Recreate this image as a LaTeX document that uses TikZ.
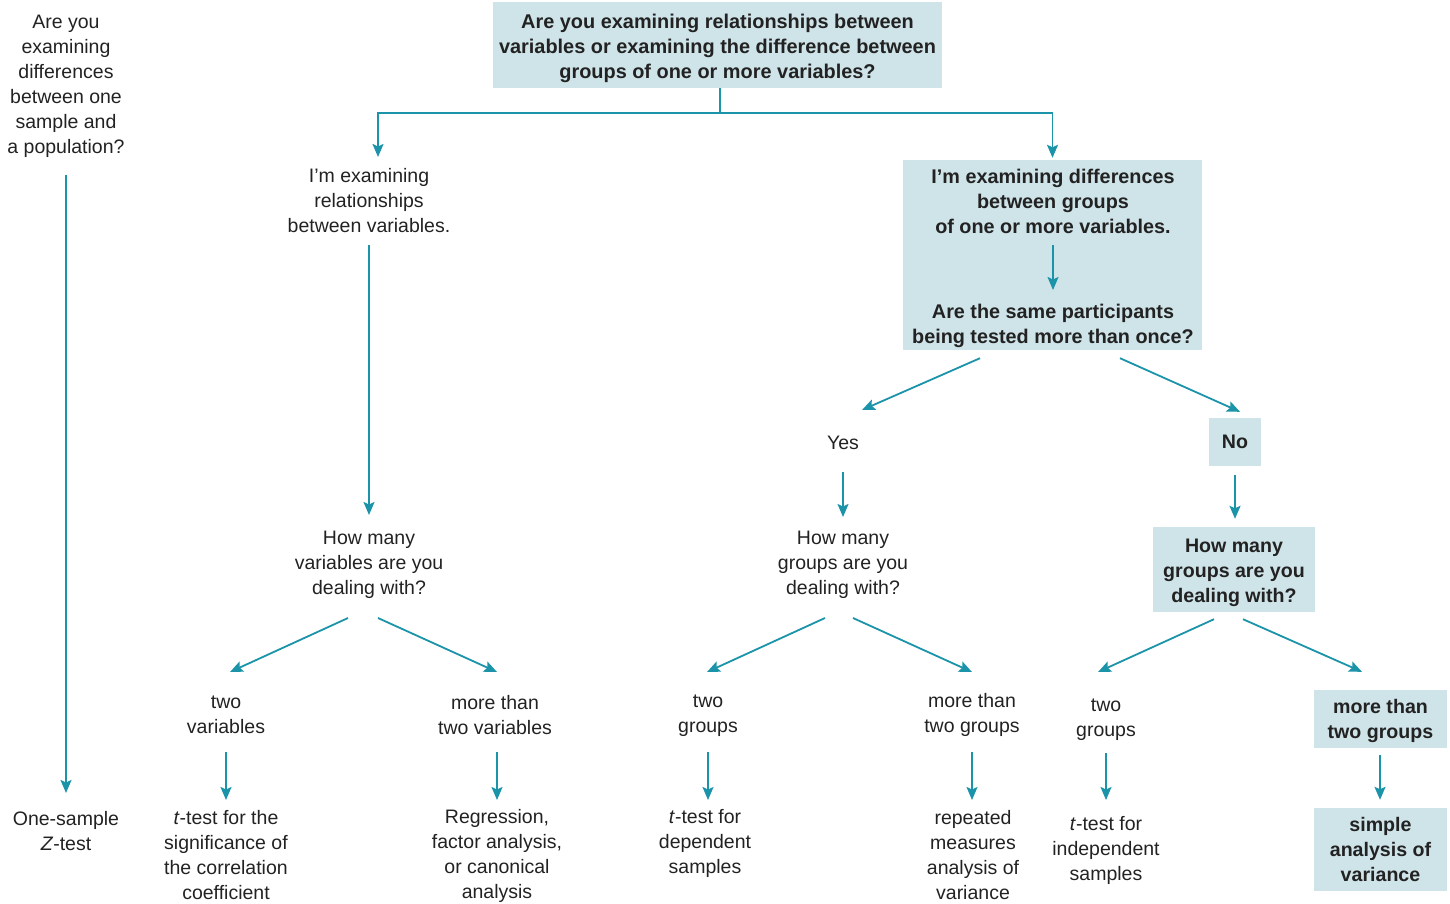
\documentclass[tikz,border=0pt]{standalone}
\usepackage{fontspec}
\setmainfont{Liberation Sans}
\usetikzlibrary{arrows.meta,calc}
\definecolor{boxfill}{HTML}{CFE4E9}
\definecolor{teal}{HTML}{1B93A9}
\definecolor{ink}{HTML}{222222}
\newcommand{\firstup}[1]{\rule{0pt}{#1}}
\tikzset{
  txt/.style={align=center, inner sep=0pt, text=ink, font=\fontsize{19.5}{25}\selectfont},
  btxt/.style={align=center, inner sep=0pt, text=ink, font=\fontsize{19.8}{25}\selectfont\bfseries},
  bluebox/.style={fill=boxfill, draw=none, inner sep=0pt, align=center, text=ink, font=\fontsize{19.6}{25}\selectfont\bfseries},
  conn/.style={draw=teal, line width=1.8pt},
  arr/.style={conn, -{Stealth[length=13pt,width=11pt,inset=2.5pt]}}
}
\begin{document}
\begin{tikzpicture}[x=1pt,y=-1pt]
\useasboundingbox (0,0) rectangle (1450,904);
% boxes
\node[bluebox, font=\fontsize{19.9}{25}\selectfont\bfseries, minimum width=449pt, minimum height=86pt] (top) at (717.5,45)
  {\firstup{22pt}Are you examining relationships between\\variables or examining the difference between\\groups of one or more variables?};
\node[bluebox, minimum width=299pt, minimum height=190pt] (diffbox) at (1052.5,255) {};
\node[btxt] (d1) at (1053,201) {I’m examining differences\\between groups\\of one or more variables.};
\node[btxt] (d2) at (1053,325.5) {Are the same participants\\being tested more than once?};
\node[bluebox, minimum width=52pt, minimum height=48pt] (no) at (1235,442) {No};
\node[bluebox, minimum width=162pt, minimum height=85pt] (hm3) at (1234,569.5) {\firstup{20pt}How many\\groups are you\\dealing with?};
\node[bluebox, minimum width=133pt, minimum height=58pt] (mtg2) at (1380.5,719) {\firstup{18pt}more than\\two groups};
\node[bluebox, minimum width=133pt, minimum height=83pt] (r6) at (1380.5,849.5) {simple\\analysis of\\variance};
% plain texts
\node[txt] (qpop) at (66,86.5) {Are you\\examining\\differences\\between one\\sample and\\a population?};
\node[txt] (onez) at (66,831) {One-sample\\\textit{Z}-test};
\node[txt] (rel) at (369,201) {I’m examining\\relationships\\between variables.};
\node[txt] (hm1) at (369,565) {How many\\variables are you\\dealing with?};
\node[txt] (yes) at (843,442.5) {Yes};
\node[txt] (hm2) at (843,565) {How many\\groups are you\\dealing with?};
\node[txt] (tv) at (226,715) {two\\variables};
\node[txt] (mtv) at (495,715) {more than\\two variables};
\node[txt] (tg1) at (708,716) {two\\groups};
\node[txt] (mtg1) at (972,715) {more than\\two groups};
\node[txt] (tg2) at (1106,720) {two\\groups};
\node[txt] (r1) at (226,855) {\textit{t}-test for the\\significance of\\the correlation\\coefficient};
\node[txt] (r2) at (497,856) {Regression,\\factor analysis,\\or canonical\\analysis};
\node[txt] (r3) at (705,843.5) {\textit{t}-test for\\dependent\\samples};
\node[txt] (r4) at (973,855) {repeated\\measures\\analysis of\\variance};
\node[txt] (r5) at (1106,850.5) {\textit{t}-test for\\independent\\samples};
% connectors
\draw[conn] ([xshift=2.5pt]top.south) -- ++(0,25) coordinate (j);
\draw[arr] (j) -| ($(rel)+(9,-44)$);
\draw[arr] (j) -| ($(diffbox.north)+(0,-2)$);
\draw[arr] ($(qpop)+(0,88.5)$) -- ($(onez)+(0,-38)$);
\draw[arr] ($(rel)+(0,44)$) -- ($(hm1)+(0,-50)$);
\draw[arr] ($(d1)+(0,44)$) -- ($(d2)+(0,-35.5)$);
\draw[arr] ($(diffbox.south)+(-72.5,8)$) -- ($(yes)+(19,-32.5)$);
\draw[arr] ($(diffbox.south)+(67.5,8)$) -- ($(no.north)+(5,-6)$);
\draw[arr] ($(yes)+(0,29.5)$) -- ($(hm2)+(0,-48)$);
\draw[arr] ($(no.south)+(0,9)$) -- ($(hm3.north)+(1,-8)$);
\draw[arr] ($(hm1)+(-21,53)$) -- ($(tv)+(4,-43)$);
\draw[arr] ($(hm1)+(9,53)$) -- ($(mtv)+(2,-43)$);
\draw[arr] ($(tv)+(0,37)$) -- ($(r1)+(0,-55)$);
\draw[arr] ($(mtv)+(2,37)$) -- ($(r2)+(0,-56)$);
\draw[arr] ($(hm2)+(-18,53)$) -- ($(tg1)+(-1,-44)$);
\draw[arr] ($(hm2)+(10,53)$) -- ($(mtg1)+(0,-43)$);
\draw[arr] ($(tg1)+(0,36)$) -- ($(r3)+(3,-43.5)$);
\draw[arr] ($(mtg1)+(0,37)$) -- ($(r4)+(-1,-55)$);
\draw[arr] ($(hm3.south)+(-20,7)$) -- ($(tg2)+(-8,-48)$);
\draw[arr] ($(hm3.south)+(9,7)$) -- ($(mtg2.north)+(-18.5,-18)$);
\draw[arr] ($(tg2)+(0,33)$) -- ($(r5)+(0,-50.5)$);
\draw[arr] ($(mtg2.south)+(-0.5,7)$) -- ($(r6.north)+(-0.5,-8)$);
\end{tikzpicture}
\end{document}
